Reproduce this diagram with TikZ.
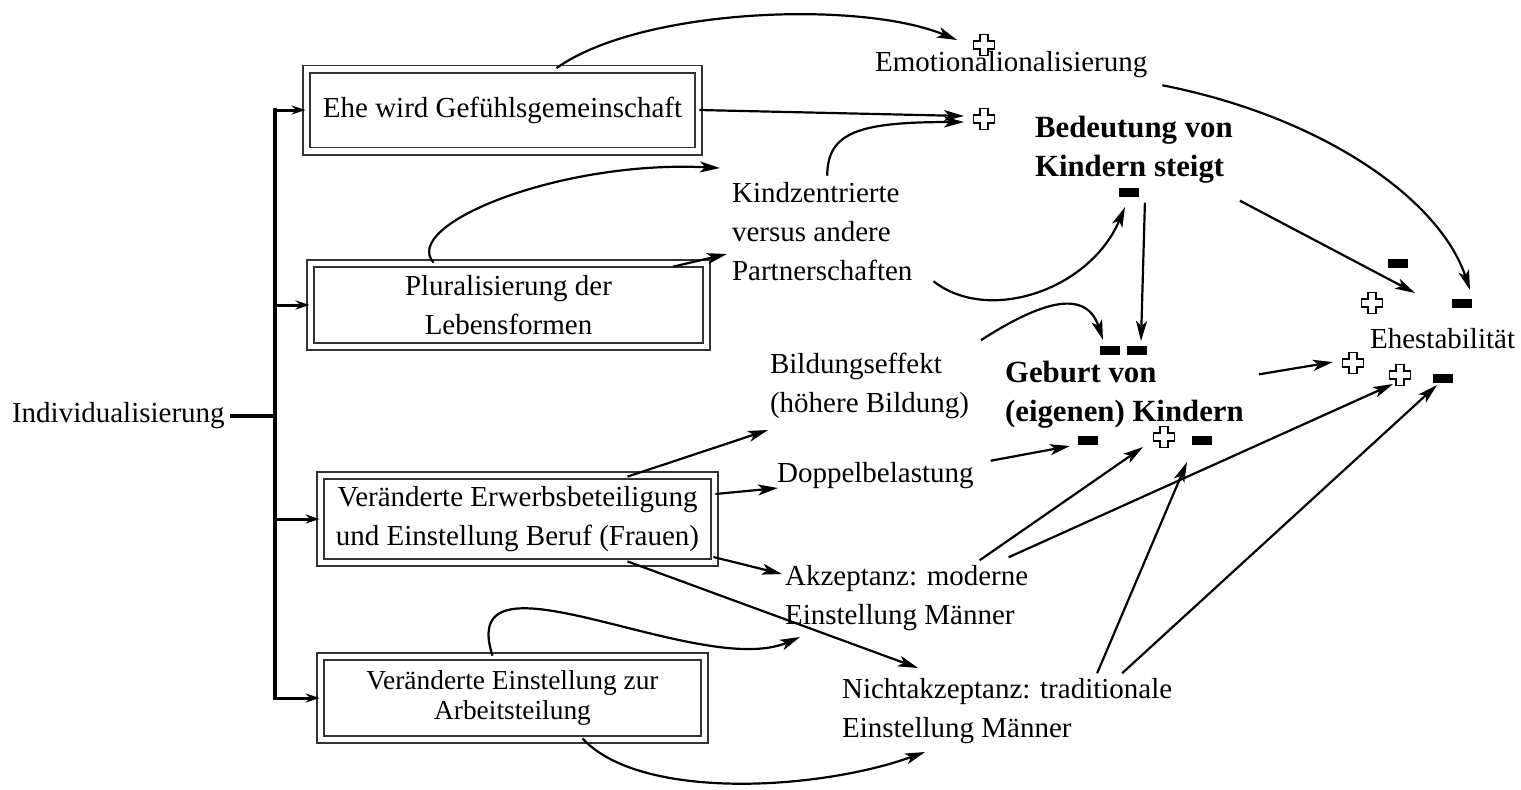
\documentclass[tikz,border=0pt]{standalone}
\usepackage{fontspec}
\setmainfont{Liberation Serif}
\usetikzlibrary{arrows.meta,calc}
\newcommand{\lab}{\fontsize{14.5}{19.5}\selectfont}
\newcommand{\blab}{\fontsize{15.4}{19.5}\selectfont\bfseries}
\begin{document}
\begin{tikzpicture}[x=0.5pt,y=-0.5pt,
doublebox/.style={draw=black!80, double, double distance=2.7pt, line width=0.9pt, align=center, inner sep=0pt, minimum height=41pt, font=\lab},
textnode/.style={align=left, anchor=west, font=\lab},
boldnode/.style={align=left, anchor=west, font=\blab},
arrow/.style={line width=1.1pt, -{Stealth[length=10pt,width=5.5pt,inset=2.5pt]}},
branch/.style={line width=1.5pt, -{Stealth[length=7pt,width=4.5pt]}},
trunkline/.style={line width=2pt, line cap=rect},
plusmark/.pic={\draw[fill=white, line width=0.6pt] (-4,-10.5) -- (4,-10.5) -- (4,-4) -- (10.5,-4) -- (10.5,4) -- (4,4) -- (4,10.5) -- (-4,10.5) -- (-4,4) -- (-10.5,4) -- (-10.5,-4) -- (-4,-4) -- cycle;},
minusmark/.pic={\fill (-10,-4.5) rectangle (10,4.5);},
]
\useasboundingbox (0,0) rectangle (1521,789);

%Nodes
\node[textnode]  (indiv)   at (5,416)    {Individualisierung};
\node[doublebox, minimum width=196pt]  (gefuehl) at (502.5,110) {Ehe wird Gefühlsgemeinschaft};
\node[doublebox, minimum width=198pt, minimum height=41.5pt] (plural) at (508.5,305) {Pluralisierung der\\Lebensformen};
\node[doublebox, minimum width=197pt, minimum height=43.5pt] (erwerb) at (517.5,519) {Veränderte Erwerbsbeteiligung\\und Einstellung Beruf (Frauen)};
\node[doublebox, minimum width=192pt, minimum height=41.5pt, font=\fontsize{13.7}{15}\selectfont] (arbeit) at (512.5,698) {Veränderte Einstellung zur\\Arbeitsteilung};
\node[textnode]  (emo)     at (868,65)   {Emotionalionalisierung};
\node[textnode]  (kind)    at (725,232)  {Kindzentrierte\\versus andere\\Partnerschaften};
\node[boldnode]  (bed)     at (1028,150) {Bedeutung von\\Kindern steigt};
\node[textnode]  (bild)    at (763,386)  {Bildungseffekt\\(höhere Bildung)};
\node[textnode]  (doppel)  at (770,476)  {Doppelbelastung};
\node[boldnode]  (geburt)  at (998,395)  {Geburt von\\(eigenen) Kindern};
\node[textnode]  (akz)     at (778,598)  {Akzeptanz: moderne\\Einstellung Männer};
\node[textnode]  (nicht)   at (835,711)  {Nichtakzeptanz: traditionale\\Einstellung Männer};
\node[textnode]  (ehe)     at (1363,339) {Ehestabilität};

%Arrow tips
\coordinate (trunk)       at (275,414);
\coordinate (tipEmo)      at (957,40);
\coordinate (tipBed1)     at (964,116);
\coordinate (tipBed2)     at (964,122);
\coordinate (tipKind1)    at (720,168);
\coordinate (tipKind2)    at (727,254);
\coordinate (tipBedMinus) at (1125,207);
\coordinate (tipGeb1)     at (1103,340);
\coordinate (tipGeb2)     at (1141,341);
\coordinate (tipGebF)     at (1070,446);
\coordinate (tipGebG)     at (1143,447);
\coordinate (tipGebH)     at (1187,462);
\coordinate (tipEhe1)     at (1415,293);
\coordinate (tipEhe2)     at (1470,290);
\coordinate (tipEhe3)     at (1333,362);
\coordinate (tipEheM)     at (1393,384);
\coordinate (tipEheN)     at (1437,385);
\coordinate (tipBild)     at (768,430);
\coordinate (tipDop)      at (778,488);
\coordinate (tipAkz1)     at (782,574);
\coordinate (tipAkz2)     at (800,637);
\coordinate (tipNicht1)   at (918,668);
\coordinate (tipNicht2)   at (925,752);

%Lines
\draw[trunkline] (indiv.east) -- (indiv.east -| trunk);
\draw[trunkline] (trunk |- gefuehl.west) -- (trunk |- arbeit.west);
\foreach \bx in {gefuehl,plural,erwerb,arbeit}
  \draw[branch] (trunk |- \bx.west) -- (\bx.west);

\draw[arrow] ($(gefuehl.north)+(54,0)$) .. controls +(84,-60) and +(-97,-40) .. (tipEmo);
\draw[arrow] (gefuehl.east) -- (tipBed1);
\draw[arrow] ($(kind.north)+(5,0)$) .. controls +(0,-44) and +(-104,0) .. (tipBed2);
\draw[arrow] ($(plural.north)+(-75,0)$) .. controls +(-33,-38) and +(-160,-8) .. (tipKind1);
\draw[arrow] ($(plural.north east)+(-34,4)$) -- (tipKind2);
\draw[arrow] ($(kind.south east)+(14,-7)$) .. controls +(55,43) and +(-35,83) .. (tipBedMinus);
\draw[arrow] ($(bild.north east)+(5,-6)$) .. controls +(53,-34) and +(-18,-55) .. (tipGeb1);
\draw[arrow] ($(bed.south)+(11,12)$) -- (tipGeb2);
\draw[arrow] ($(bed.south east)+(0,10)$) -- (tipEhe1);
\draw[arrow] ($(emo.south east)+(8,0)$) .. controls +(162,32) and +(-30,-90) .. (tipEhe2);
\draw[arrow] ($(geburt.north east)+(8,20)$) -- (tipEhe3);
\draw[arrow] ($(erwerb.north)+(110,2)$) -- (tipBild);
\draw[arrow] ($(erwerb.east)+(0,-25)$) -- (tipDop);
\draw[arrow] ($(erwerb.east)+(-2,38)$) -- (tipAkz1);
\draw[arrow] ($(erwerb.south)+(110,-2)$) -- (tipNicht1);
\draw[arrow] ($(arbeit.north)+(-20,0)$) .. controls +(-38,-117) and +(-100,43) .. (tipAkz2);
\draw[arrow] ($(arbeit.south)+(70,-2)$) .. controls +(58,63) and +(-105,38) .. (tipNicht2);
\draw[arrow] ($(doppel.north east)+(10,5)$) -- (tipGebF);
\draw[arrow] ($(akz.north)+(73,2)$) -- (tipGebG);
\draw[arrow] ($(akz.north)+(102,-1)$) -- (tipEheM);
\draw[arrow] ($(nicht.north)+(90,2)$) -- (tipGebH);
\draw[arrow] ($(nicht.north)+(115,2)$) -- (tipEheN);

%Signs
\pic (plusEmo)   at (984,45)   {plusmark};
\pic (plusBed)   at (984,119)  {plusmark};
\pic (minusBed)  at (1129,192) {minusmark};
\pic (minusGebA) at (1110,350) {minusmark};
\pic (minusGebB) at (1137,350) {minusmark};
\pic (minusGebF) at (1088,440) {minusmark};
\pic (plusGebG)  at (1164,437) {plusmark};
\pic (minusGebH) at (1202,440) {minusmark};
\pic (minusEheI) at (1398,263) {minusmark};
\pic (plusEheJ)  at (1372,303) {plusmark};
\pic (minusEheK) at (1462,303) {minusmark};
\pic (plusEheL)  at (1353,363) {plusmark};
\pic (plusEheM)  at (1400,375) {plusmark};
\pic (minusEheN) at (1443,378) {minusmark};
\end{tikzpicture}
\end{document}
